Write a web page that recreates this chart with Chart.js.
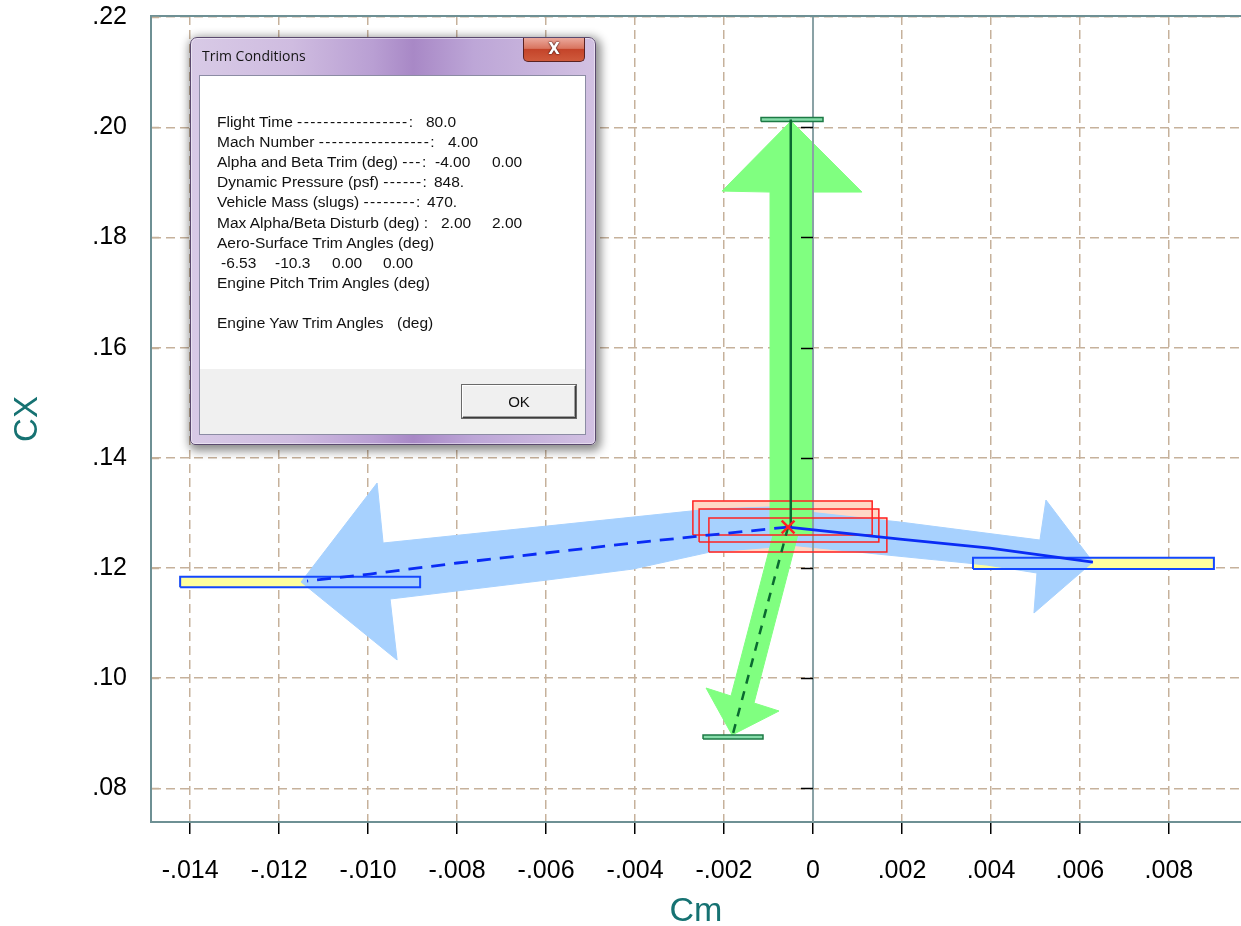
<!DOCTYPE html>
<html>
<head>
<meta charset="utf-8">
<script src="https://cdn.jsdelivr.net/npm/chart.js@4.4.1/dist/chart.umd.min.js"></script>
<style>
  html, body { margin: 0; padding: 0; background: #fff; }
  #wrap { position: relative; width: 1241px; height: 926px; overflow: hidden; }
  #c { position: absolute; left: 0; top: 0; }
  .dlg { position: absolute; left: 190px; top: 37px; width: 404px; height: 406px;
         border: 1px solid #5b4a6e; border-radius: 7px 7px 5px 5px;
         background: linear-gradient(to right, #d8cae6 0%, #cfbce0 25%, #b99fd3 45%, #a888c6 55%, #bda6d7 70%, #d2c1e2 100%);
         box-shadow: inset 0 0 0 1px rgba(255,255,255,0.45), 2px 3px 10px 3px rgba(0,0,0,0.45); }
  .dlg-title { position: absolute; left: 11px; top: 8px; font: 14px "Open Sans", "Noto Sans", sans-serif; color: #141414; }
  .dlg-close { position: absolute; left: 332px; top: 0; width: 60px; height: 23px;
               border: 1px solid #5a2222; border-top: none; border-radius: 0 0 5px 5px;
               background: linear-gradient(#eba89c 0%, #d97560 45%, #c4442a 50%, #cf5a3c 100%);
               color: #fff; font: bold 15px "DejaVu Sans", sans-serif; text-align: center; line-height: 22px;
               text-shadow: 0 0 2px #3a0a0a, 0 0 1px #3a0a0a; }
  .dlg-client { position: absolute; left: 8px; top: 37px; width: 385px; height: 358px;
                border: 1px solid #8c8ca4; background: #f0f0f0; }
  .dlg-body { position: absolute; left: 0; top: 0; width: 385px; height: 293px; background: #fff; }
  .ln { position: absolute; left: 17px; height: 20px; line-height: 20px; white-space: pre;
        font: 15.5px "Liberation Sans", Arial, sans-serif; color: #111; }
  .ln .d { letter-spacing: 1.4px; }
  .ln .v { position: absolute; top: 0; }
  .dlg-ok { position: absolute; left: 262px; top: 309px; width: 112px; height: 31px;
            border: 1px solid; border-color: #fff #3c3c3c #3c3c3c #fff;
            box-shadow: inset -1px -1px 0 #a0a0a0, 0 0 0 1px #6a6a6a;
            background: #f0f0f0; font: 15px "Liberation Sans", Arial, sans-serif; color: #111;
            text-align: center; line-height: 31px; }
</style>
</head>
<body>
<div id="wrap">
  <canvas id="c" width="1241" height="926"></canvas>
  <div class="dlg">
    <div class="dlg-title">Trim Conditions</div>
    <div class="dlg-close">X</div>
    <div class="dlg-client">
      <div class="dlg-body">
        <div class="ln" style="top:37px">Flight Time <span class="d">-----------------</span>:<span class="v" style="left:209px">80.0</span></div>
        <div class="ln" style="top:57px">Mach Number <span class="d">-----------------</span>:<span class="v" style="left:231px">4.00</span></div>
        <div class="ln" style="top:77px">Alpha and Beta Trim (deg) <span class="d">---</span>:<span class="v" style="left:218px">-4.00</span><span class="v" style="left:275px">0.00</span></div>
        <div class="ln" style="top:97px">Dynamic Pressure (psf) <span class="d">------</span>:<span class="v" style="left:217px">848.</span></div>
        <div class="ln" style="top:117px">Vehicle Mass (slugs) <span class="d">--------</span>:<span class="v" style="left:210px">470.</span></div>
        <div class="ln" style="top:138px">Max Alpha/Beta Disturb (deg) :<span class="v" style="left:224px">2.00</span><span class="v" style="left:275px">2.00</span></div>
        <div class="ln" style="top:158px">Aero-Surface Trim Angles (deg)</div>
        <div class="ln" style="top:178px"><span class="v" style="left:4px">-6.53</span><span class="v" style="left:58px">-10.3</span><span class="v" style="left:115px">0.00</span><span class="v" style="left:166px">0.00</span></div>
        <div class="ln" style="top:198px">Engine Pitch Trim Angles (deg)</div>
        <div class="ln" style="top:238px">Engine Yaw Trim Angles<span class="v" style="left:180px">(deg)</span></div>
      </div>
      <div class="dlg-ok">OK</div>
    </div>
  </div>
</div>
<script>
// ---- axes ----
const xTicks = [-0.014, -0.012, -0.010, -0.008, -0.006, -0.004, -0.002, 0, 0.002, 0.004, 0.006, 0.008];
const yTicks = [0.08, 0.10, 0.12, 0.14, 0.16, 0.18, 0.20, 0.22];
const xRange = [-0.01488, 0.00962];
const yRange = [0.0739, 0.2202];

// ---- trim point (Cm, CX) ----
const trimPoint = [-0.00056, 0.12744];

// ---- response lines (Cm, CX) ----
const alphaUpLine   = [[-0.0005, 0.1274], [-0.0005, 0.2014]];
const alphaDownLine = [[-0.00056, 0.12744], [-0.00182, 0.0893]];
const betaLeftLine  = [[-0.00056, 0.12744], [-0.002539, 0.12581], [-0.004045, 0.12454], [-0.006022, 0.12272],
                       [-0.008, 0.12091], [-0.009955, 0.11891], [-0.011371, 0.11764]];
const betaRightLine = [[-0.00056, 0.12744], [0.001955, 0.12526], [0.003978, 0.12363], [0.006292, 0.12109]];

// ---- boxes [CmMin, CmMax, CXMin, CXMax] ----
const trimBoxes  = [[-0.0027, 0.00133, 0.12599, 0.13216],
                    [-0.00256, 0.00148, 0.12472, 0.13071],
                    [-0.00234, 0.00166, 0.1229, 0.12907]];
const limitBoxes = [[-0.014225, -0.008831, 0.11649, 0.11842],
                    [0.003596, 0.009011, 0.11982, 0.12187]];
const endBars    = [[-0.001169, 0.000225, 0.20104, 0.20177],
                    [-0.002472, -0.001124, 0.08897, 0.08969]];

// ---- arrow outlines (Cm, CX) ----
const arrowLeft  = [[-0.000292, 0.13125], [-0.002315, 0.13071], [-0.005978, 0.12762], [-0.009663, 0.12454],
                    [-0.009798, 0.13543], [-0.011506, 0.11746], [-0.009348, 0.1033], [-0.009506, 0.11437],
                    [-0.005978, 0.11782], [-0.004045, 0.11982], [-0.002315, 0.1229], [-0.000292, 0.12417]];
const arrowRight = [[-0.000517, 0.13053], [0.001955, 0.12835], [0.005101, 0.12508], [0.005236, 0.13234],
                    [0.006292, 0.12109], [0.004966, 0.11183], [0.005034, 0.11909], [0.00391, 0.12054],
                    [0.001438, 0.12254], [-0.000517, 0.12417]];
const arrowUp    = [[-0.000966, 0.12599], [-0.000966, 0.18824], [-0.002045, 0.18842], [-0.000494, 0.20113],
                    [0.001101, 0.18824], [0, 0.18824], [0, 0.12599]];
const arrowDown  = [[-0.00082, 0.1284], [-0.000303, 0.1272], [-0.001326, 0.0955], [-0.000764, 0.09405],
                    [-0.00182, 0.08969], [-0.002404, 0.09822], [-0.001843, 0.09677]];

// ---- helpers ----
const pts = a => a.map(([x, y]) => ({ x, y }));
const closed = a => pts(a.concat([a[0]]));
const boxPts = ([x0, x1, y0, y1]) => pts([[x0, y0], [x1, y0], [x1, y1], [x0, y1], [x0, y0]]);

const C = {
  pink: '#ffd8c6', yellow: '#ffff9e', blue: '#a7d1fe', green: '#80ff80',
  red: '#ff2222', outline: '#1448ff', barFill: '#86dcaa', barEdge: '#1d7a45',
  darkGreen: '#0a6a30', line: '#0a2cf5', grid: '#c6b19b', frame: '#6e9094',
  axis0: '#8aa2a6', title: '#167272'
};

function shape(data, color, order) {
  return { data, fill: 'shape', backgroundColor: color, borderColor: color, borderWidth: 1, pointRadius: 0, order };
}
function outline(data, color, width, order) {
  return { data, fill: false, borderColor: color, borderWidth: width, pointRadius: 0, order };
}

const datasets = [];
trimBoxes.forEach(b => datasets.push(shape(boxPts(b), C.pink, 100)));
limitBoxes.forEach(b => datasets.push(shape(boxPts(b), C.yellow, 90)));
datasets.push(shape(closed(arrowLeft), C.blue, 80));
datasets.push(shape(closed(arrowRight), C.blue, 80));
datasets.push(shape(closed(arrowUp), C.green, 70));
datasets.push(shape(closed(arrowDown), C.green, 70));
datasets.push(outline(pts([[0, yRange[0]], [0, yRange[1]]]), C.axis0, 2, 65));
trimBoxes.forEach(b => datasets.push(outline(boxPts(b), C.red, 1.5, 60)));
limitBoxes.forEach(b => datasets.push(outline(boxPts(b), C.outline, 2, 50)));
endBars.forEach(b => datasets.push({ ...shape(boxPts(b), C.barFill, 40), borderColor: C.barEdge, borderWidth: 1.5 }));
datasets.push(outline(pts(alphaUpLine), C.darkGreen, 2.5, 30));
datasets.push({ ...outline(pts(alphaDownLine), C.darkGreen, 2.5, 30), borderDash: [9, 8] });
datasets.push({ ...outline(pts(betaLeftLine), C.line, 2.8, 20), borderDash: [14, 9] });
datasets.push(outline(pts(betaRightLine), C.line, 2.8, 20));
datasets.push({ data: pts([trimPoint]), showLine: false, pointStyle: 'crossRot', pointRadius: 9,
                pointBorderColor: C.red, pointBorderWidth: 2.5, pointBackgroundColor: C.red, order: 0 });

function fmtTick(v, d) {
  if (Math.abs(v) < 1e-12) return '0';
  return (v < 0 ? '-' : '') + Math.abs(v).toFixed(d).replace(/^0/, '');
}

// plot frame: top edge, inner tick marks on the left edge, and marks on the zero axis
const framePlugin = {
  id: 'frame',
  afterDatasetsDraw(chart) {
    const { ctx, chartArea: a, scales: { x, y } } = chart;
    ctx.save();
    ctx.strokeStyle = C.frame; ctx.lineWidth = 2;
    ctx.beginPath(); ctx.moveTo(a.left, a.top); ctx.lineTo(a.right, a.top); ctx.stroke();
    const x0 = x.getPixelForValue(0);
    yTicks.forEach(v => {
      const py = Math.round(y.getPixelForValue(v)) + 0.5;
      ctx.strokeStyle = C.grid; ctx.lineWidth = 1.5;
      ctx.beginPath(); ctx.moveTo(a.left + 1, py); ctx.lineTo(a.left + 8, py); ctx.stroke();
      if (py > a.top + 4) {
        ctx.strokeStyle = '#000'; ctx.lineWidth = 1.5;
        ctx.beginPath(); ctx.moveTo(x0 - 12, py); ctx.lineTo(x0, py); ctx.stroke();
      }
    });
    ctx.restore();
  }
};

const fam = "'Liberation Sans', Arial, sans-serif";

new Chart(document.getElementById('c'), {
  type: 'line',
  data: { datasets },
  options: {
    responsive: false,
    animation: false,
    layout: { autoPadding: false, padding: { top: 16, right: 0, bottom: 0, left: 0 } },
    plugins: { legend: { display: false }, tooltip: { enabled: false } },
    elements: { point: { radius: 0 }, line: { tension: 0 } },
    scales: {
      x: {
        type: 'linear', min: xRange[0], max: xRange[1],
        afterBuildTicks: s => { s.ticks = xTicks.map(value => ({ value })); },
        afterFit: s => { s.height = 104; },
        ticks: { callback: v => fmtTick(v, 3), color: '#000', font: { family: fam, size: 25 }, padding: 22, autoSkip: false, maxRotation: 0 },
        grid: { color: C.grid, lineWidth: 1.5, tickLength: 12, tickColor: '#000', tickWidth: 1.5 },
        border: { color: C.frame, width: 2, dash: [9, 5] },
        title: { display: true, text: 'Cm', color: C.title, font: { family: fam, size: 34, lineHeight: 0.8 }, padding: { top: 0, bottom: 1 } }
      },
      y: {
        type: 'linear', min: yRange[0], max: yRange[1],
        afterBuildTicks: s => { s.ticks = yTicks.map(value => ({ value })); },
        afterFit: s => { s.width = 151; },
        ticks: { callback: v => fmtTick(v, 2), color: '#000', font: { family: fam, size: 25 }, padding: 0, autoSkip: false },
        grid: { color: C.grid, lineWidth: 1.5, drawTicks: true, tickLength: 24, tickColor: 'rgba(0,0,0,0)' },
        border: { color: C.frame, width: 2, dash: [9, 5] },
        title: { display: true, text: 'CX', color: C.title, font: { family: fam, size: 33, lineHeight: 0.8 }, padding: { top: 15, bottom: 0 } }
      }
    }
  },
  plugins: [framePlugin]
});
</script>
</body>
</html>
